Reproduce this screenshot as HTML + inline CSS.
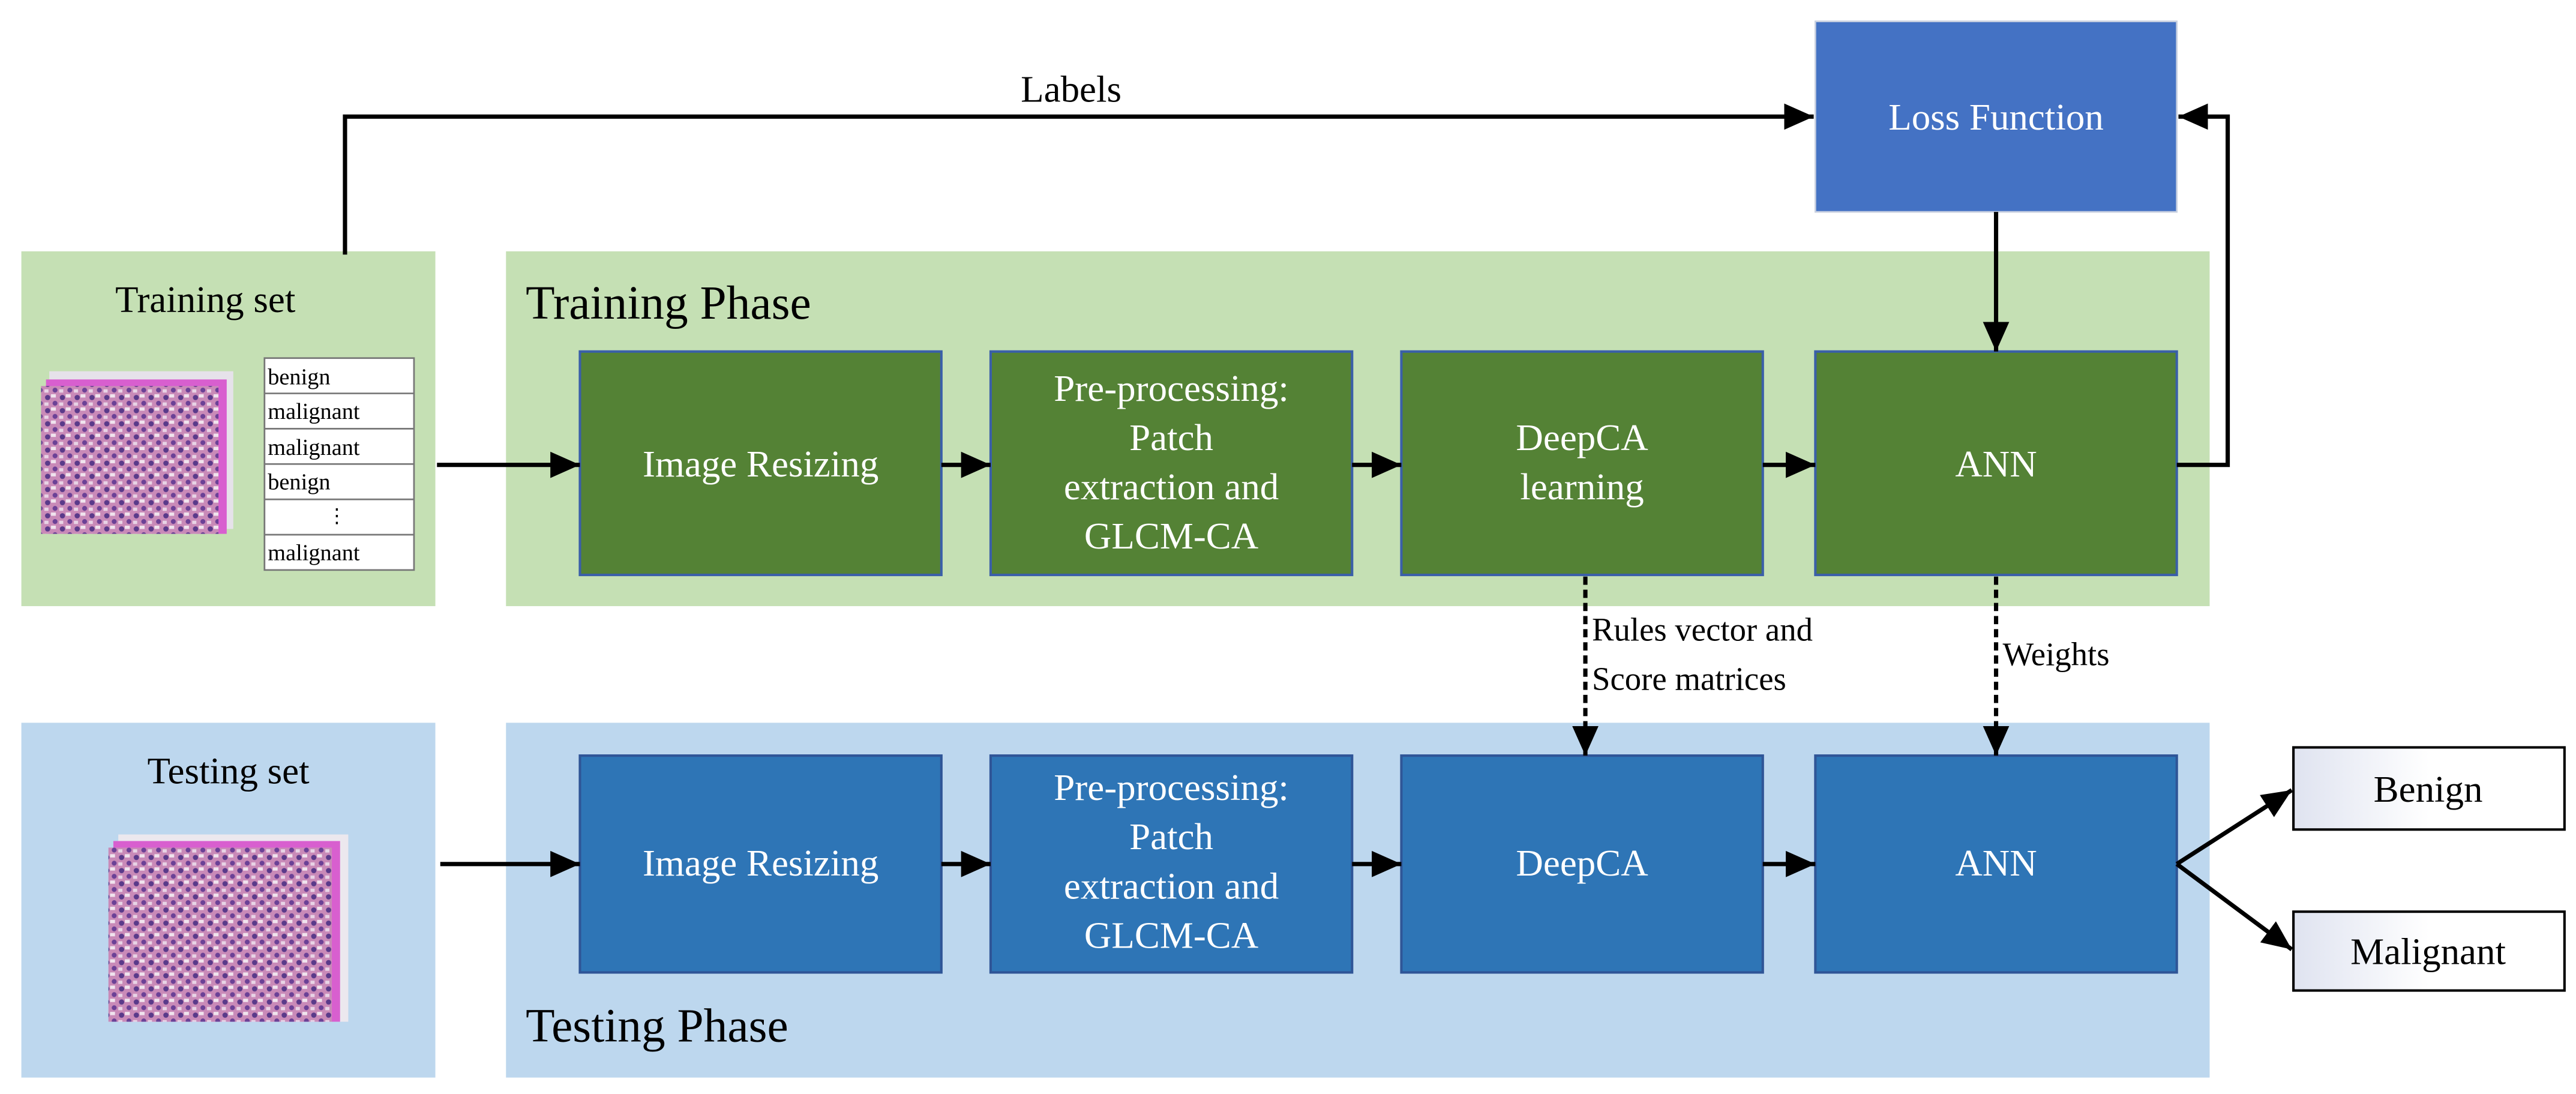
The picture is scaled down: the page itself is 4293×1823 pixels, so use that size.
<!DOCTYPE html>
<html><head><meta charset="utf-8"><style>
html,body{margin:0;padding:0;background:#fff;}
svg{display:block;font-family:"Liberation Serif","DejaVu Serif",serif;}
svg text{font-family:"Liberation Serif","DejaVu Serif",serif !important;}
</style></head><body>
<svg width="4293" height="1823" viewBox="0 0 1568 666" preserveAspectRatio="none" xmlns="http://www.w3.org/2000/svg" font-family="Liberation Serif, DejaVu Serif, serif">
<defs>
<marker id="ah" markerWidth="18" markerHeight="16" refX="18" refY="8" orient="auto" markerUnits="userSpaceOnUse">
<path d="M0,0 L18,8 L0,16 Z" fill="#000"/></marker>
<pattern id="cells" width="9" height="8" patternUnits="userSpaceOnUse">
<rect width="9" height="8" fill="#c98ab8"/>
<circle cx="2" cy="2" r="1.6" fill="#5a3a8a"/>
<circle cx="6.5" cy="5.5" r="1.5" fill="#6b4196"/>
<rect x="4" y="0" width="3" height="2" fill="#f0e4ee"/>
<rect x="0" y="5" width="2.5" height="2" fill="#e8d4e6"/>
</pattern>
<linearGradient id="gb" x1="0" y1="0" x2="1" y2="0">
<stop offset="0" stop-color="#dfe3f0"/><stop offset="0.5" stop-color="#ffffff"/><stop offset="1" stop-color="#ffffff"/></linearGradient>
</defs>

<rect x="13" y="153" width="252" height="216" fill="#c5e0b4"/>
<rect x="308" y="153" width="1037" height="216" fill="#c5e0b4"/>
<rect x="13" y="440" width="252" height="216" fill="#bdd7ee"/>
<rect x="308" y="440" width="1037" height="216" fill="#bdd7ee"/>

<rect x="1105" y="13" width="220" height="116" fill="#4472c4" stroke="#c8d0e0" stroke-width="1"/>
<text x="1215" y="79" font-size="23" fill="#fff" text-anchor="middle">Loss Function</text>

<text x="125" y="190" font-size="23" text-anchor="middle">Training set</text>
<text x="320" y="194" font-size="29">Training Phase</text>
<text x="139" y="477" font-size="23" text-anchor="middle">Testing set</text>
<text x="320" y="634" font-size="29">Testing Phase</text>

<rect x="30" y="226" width="112" height="96" fill="#e6e2ea"/>
<rect x="28" y="231" width="110" height="94" fill="#d85fcf"/>
<rect x="25" y="235" width="108" height="90" fill="url(#cells)"/>
<g font-size="14">
<rect x="161" y="218" width="91" height="129" fill="#fff" stroke="#777" stroke-width="1"/>
<line x1="161" y1="239.5" x2="252" y2="239.5" stroke="#777"/>
<line x1="161" y1="261" x2="252" y2="261" stroke="#777"/>
<line x1="161" y1="282.5" x2="252" y2="282.5" stroke="#777"/>
<line x1="161" y1="304" x2="252" y2="304" stroke="#777"/>
<line x1="161" y1="325.5" x2="252" y2="325.5" stroke="#777"/>
<text x="163" y="234">benign</text>
<text x="163" y="255">malignant</text>
<text x="163" y="277">malignant</text>
<text x="163" y="298">benign</text>
<text x="205" y="318" text-anchor="middle" font-size="12">⋮</text>
<text x="163" y="341">malignant</text>
</g>

<rect x="72" y="508" width="140" height="114" fill="#ece8ee"/>
<rect x="69" y="512" width="138" height="110" fill="#d85fcf"/>
<rect x="66" y="516" width="136" height="106" fill="url(#cells)"/>

<g fill="#548235" stroke="#3a5fa8" stroke-width="1.5">
<rect x="353" y="214" width="220" height="136"/>
<rect x="603" y="214" width="220" height="136"/>
<rect x="853" y="214" width="220" height="136"/>
<rect x="1105" y="214" width="220" height="136"/>
</g>
<g fill="#fff" font-size="23" text-anchor="middle">
<text x="463" y="290">Image Resizing</text>
<text x="713" y="244">Pre-processing:</text>
<text x="713" y="274">Patch</text>
<text x="713" y="304">extraction and</text>
<text x="713" y="334">GLCM-CA</text>
<text x="963" y="274">DeepCA</text>
<text x="963" y="304">learning</text>
<text x="1215" y="290">ANN</text>
</g>

<g fill="#2e75b6" stroke="#2f5597" stroke-width="1.5">
<rect x="353" y="460" width="220" height="132"/>
<rect x="603" y="460" width="220" height="132"/>
<rect x="853" y="460" width="220" height="132"/>
<rect x="1105" y="460" width="220" height="132"/>
</g>
<g fill="#fff" font-size="23" text-anchor="middle">
<text x="463" y="533">Image Resizing</text>
<text x="713" y="487">Pre-processing:</text>
<text x="713" y="517">Patch</text>
<text x="713" y="547">extraction and</text>
<text x="713" y="577">GLCM-CA</text>
<text x="963" y="533">DeepCA</text>
<text x="1215" y="533">ANN</text>
</g>

<rect x="1396" y="455" width="165" height="50" fill="url(#gb)" stroke="#000" stroke-width="1.5"/>
<text x="1478" y="488" font-size="23" text-anchor="middle">Benign</text>
<rect x="1396" y="555" width="165" height="48" fill="url(#gb)" stroke="#000" stroke-width="1.5"/>
<text x="1478" y="587" font-size="23" text-anchor="middle">Malignant</text>

<g stroke="#000" stroke-width="2.6" fill="none">
<polyline points="210,155 210,71 1104,71" marker-end="url(#ah)"/>
<line x1="1215" y1="129" x2="1215" y2="214" marker-end="url(#ah)"/>
<polyline points="1325,283 1356,283 1356,71 1326,71" marker-end="url(#ah)"/>
<line x1="266" y1="283" x2="353" y2="283" marker-end="url(#ah)"/>
<line x1="573" y1="283" x2="603" y2="283" marker-end="url(#ah)"/>
<line x1="823" y1="283" x2="853" y2="283" marker-end="url(#ah)"/>
<line x1="1073" y1="283" x2="1105" y2="283" marker-end="url(#ah)"/>
<line x1="268" y1="526" x2="353" y2="526" marker-end="url(#ah)"/>
<line x1="573" y1="526" x2="603" y2="526" marker-end="url(#ah)"/>
<line x1="823" y1="526" x2="853" y2="526" marker-end="url(#ah)"/>
<line x1="1073" y1="526" x2="1105" y2="526" marker-end="url(#ah)"/>
<line x1="1325" y1="526" x2="1395" y2="481" marker-end="url(#ah)"/>
<line x1="1325" y1="526" x2="1395" y2="578" marker-end="url(#ah)"/>
<line x1="965" y1="351" x2="965" y2="460" stroke-dasharray="5,3" marker-end="url(#ah)"/>
<line x1="1215" y1="351" x2="1215" y2="460" stroke-dasharray="5,3" marker-end="url(#ah)"/>
</g>

<text x="652" y="62" font-size="23" text-anchor="middle">Labels</text>
<text x="969" y="390" font-size="20">Rules vector and</text>
<text x="969" y="420" font-size="20">Score matrices</text>
<text x="1219" y="405" font-size="20">Weights</text>
</svg>
</body></html>
